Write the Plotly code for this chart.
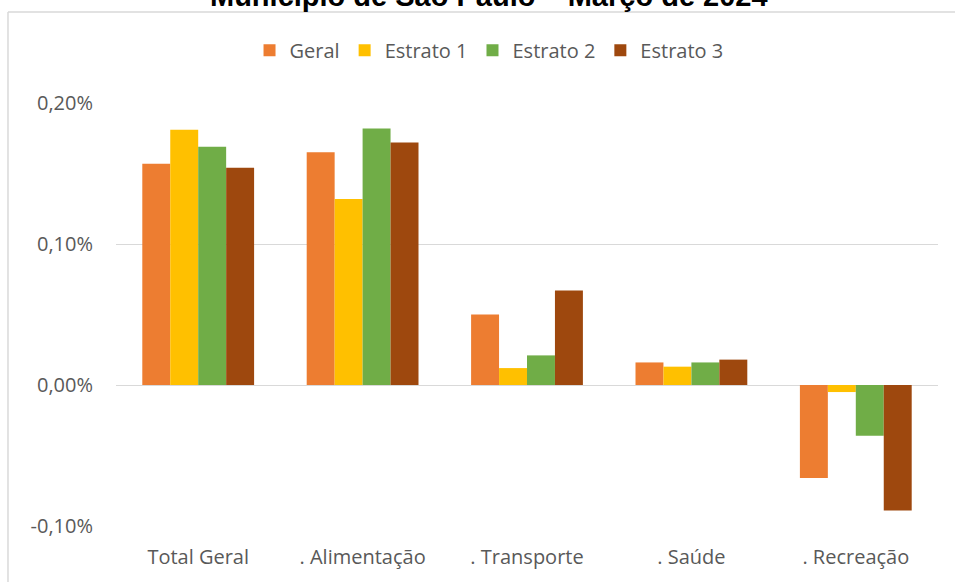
import plotly.graph_objects as go

categories = ["Total Geral", ". Alimentação", ". Transporte", ". Saúde", ". Recreação"]
geral = [0.157, 0.165, 0.050, 0.016, -0.066]
estrato1 = [0.181, 0.132, 0.012, 0.013, -0.005]
estrato2 = [0.169, 0.182, 0.021, 0.016, -0.036]
estrato3 = [0.154, 0.172, 0.067, 0.018, -0.089]
series_names = ["Geral", "Estrato 1", "Estrato 2", "Estrato 3"]
colors = ["#ED7D31", "#FFC000", "#70AD47", "#9E480E"]
tick_vals = [-0.10, 0.0, 0.10, 0.20]
tick_text = [f"{v:.2f}%".replace(".", ",") for v in tick_vals]
title_text = "Município de São Paulo – Março de 2024"

fig = go.Figure()
for name, vals, c in zip(series_names, [geral, estrato1, estrato2, estrato3], colors):
    fig.add_trace(go.Bar(x=categories, y=vals, name=name, marker_color=c,
                         marker_line_width=0))

font_family = "Open Sans"
txt = "#595959"
fig.update_layout(
    width=955, height=582,
    margin=dict(l=116, r=17, t=103, b=56, autoexpand=False),
    paper_bgcolor="white", plot_bgcolor="white",
    barmode="group", bargap=0.32, bargroupgap=0,
    showlegend=True,
    legend=dict(orientation="h", x=0.4538, y=1.125, xanchor="center", yanchor="middle",
                font=dict(family=font_family, size=20, color=txt),
                tracegroupgap=0, bgcolor="rgba(0,0,0,0)"),
    font=dict(family=font_family, size=20, color=txt),
)
fig.update_yaxes(range=[-0.10, 0.20], tickvals=tick_vals, ticktext=tick_text,
                 showgrid=True, gridcolor="#d9d9d9", gridwidth=1.3,
                 zeroline=True, zerolinecolor="#d9d9d9", zerolinewidth=1.3,
                 showline=False, ticks="", ticklabelstandoff=22,
                 tickfont=dict(family=font_family, size=20, color=txt))
fig.update_xaxes(showgrid=False, showline=False, ticks="", ticklabelstandoff=17,
                 tickfont=dict(family=font_family, size=20, color=txt))

fig.add_annotation(text="<b>" + title_text + "</b>", xref="paper", yref="paper",
                   x=0.4538, y=1.252, xanchor="center", yanchor="middle", showarrow=False,
                   font=dict(family="Liberation Sans", size=29, color="black"))

# chart-area border (left and top edges)
fig.add_shape(type="line", xref="paper", yref="paper", x0=-0.1314, x1=-0.1314, y0=1.2151, y1=-0.2,
              line=dict(color="#d9d9d9", width=1.5))
fig.add_shape(type="line", xref="paper", yref="paper", x0=-0.1314, x1=1.05, y0=1.2151, y1=1.2151,
              line=dict(color="#d9d9d9", width=1.5))

fig.write_html("out.html", config={"displayModeBar": False},
               post_script="document.body.style.margin='0px';")
